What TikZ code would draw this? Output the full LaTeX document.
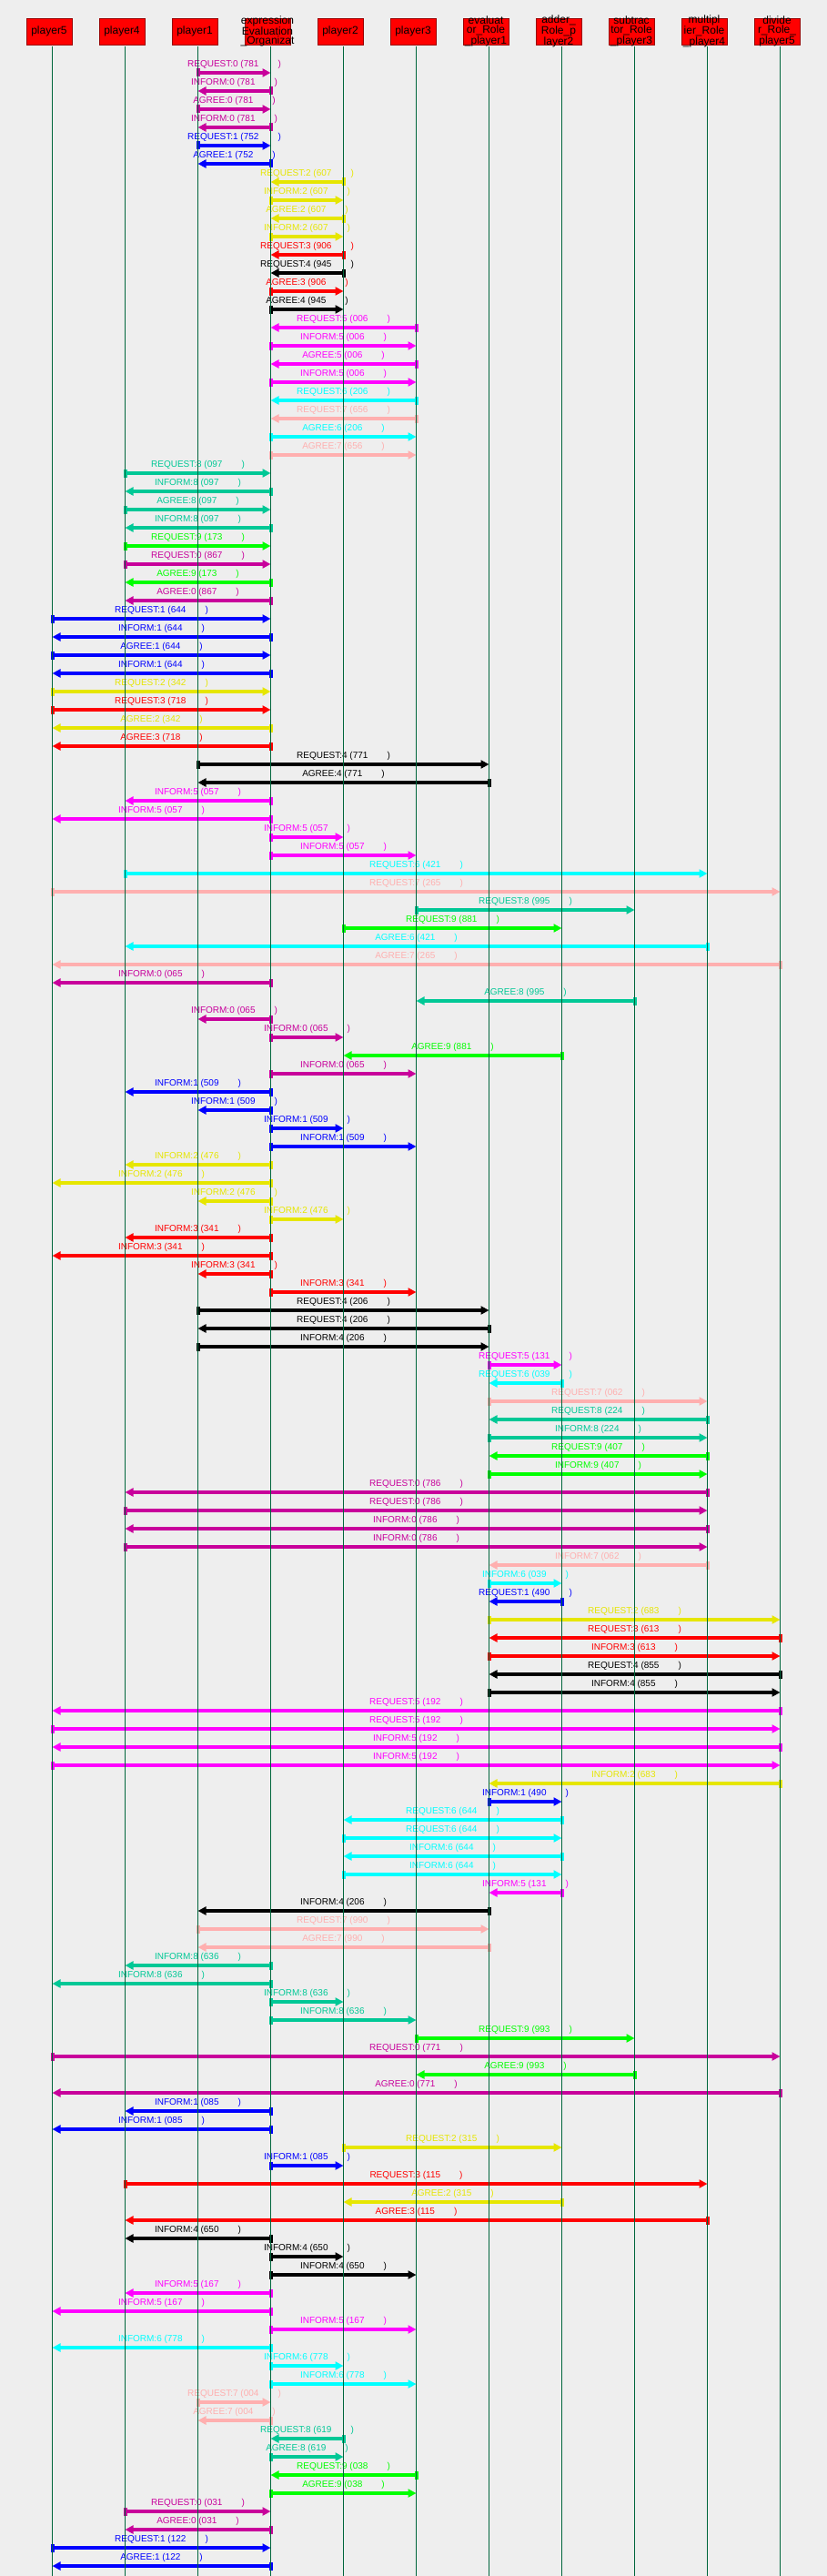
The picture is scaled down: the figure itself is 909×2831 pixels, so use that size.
\documentclass[tikz,border=0pt]{standalone}
\usepackage{fontspec}
\setmainfont{Liberation Sans}
\usepackage{xcolor}
\usetikzlibrary{arrows.meta}
\definecolor{bg}{HTML}{EEEEEE}
\definecolor{life}{HTML}{00663C}
\definecolor{boxred}{HTML}{FF0000}
\definecolor{boxedge}{HTML}{990000}
\definecolor{m0}{HTML}{C8009B}
\definecolor{m1}{HTML}{0000FF}
\definecolor{m2}{HTML}{E6E600}
\definecolor{m3}{HTML}{FF0000}
\definecolor{m4}{HTML}{000000}
\definecolor{m5}{HTML}{FF00FF}
\definecolor{m6}{HTML}{00FFFF}
\definecolor{m7}{HTML}{FFAFAF}
\definecolor{m8}{HTML}{00C896}
\definecolor{m9}{HTML}{00FF00}

\begin{document}
\begin{tikzpicture}[x=1pt, y=-1pt,
    hdr/.style={rectangle, fill=boxred, draw=boxedge, line width=0.6pt,
      minimum width=50pt, minimum height=29pt, inner sep=0pt},
    hdrtext/.style={align=center, inner sep=0pt, font=\fontsize{12}{10.4}\selectfont},
    msg/.style={line width=3.2pt, -{Triangle[length=9pt, width=9pt]}},
    tick/.style={rectangle, inner sep=0pt, minimum width=4pt, minimum height=9pt},
    lbl/.style={inner sep=0pt, font=\fontsize{10}{12}\selectfont}]
  % background
  \fill[bg] (0,0) rectangle (909,2831);
  \useasboundingbox (0,0) rectangle (909,2831);
  % header boxes, one per role
  \foreach \nm/\i/\txt in {p5/1/player5, p4/2/player4, p1/3/player1,
      org/4/{expression\\Evaluation\\\_Organizat}, p2/5/player2, p3/6/player3,
      eval/7/{evaluat\\or\_Role\\\_player1}, add/8/{adder\_\\Role\_p\\layer2},
      sub/9/{subtrac\\tor\_Role\\\_player3}, mul/10/{multipl\\ier\_Role\\\_player4},
      div/11/{divide\\r\_Role\_\\player5}}{
    \node[hdr] (h\nm) at ({80*\i-26},34.6) {};
    \node[hdrtext] (t\nm) at (h\nm) {\txt};
    \coordinate (\nm) at ({80*\i-22.5},51);
  }
  % messages, top to bottom
  \foreach \src/\dst/\act/\k/\id [count=\i] in {
      p1/org/REQUEST/0/781, org/p1/INFORM/0/781, p1/org/AGREE/0/781, org/p1/INFORM/0/781,
      p1/org/REQUEST/1/752, org/p1/AGREE/1/752,
      p2/org/REQUEST/2/607, org/p2/INFORM/2/607, p2/org/AGREE/2/607, org/p2/INFORM/2/607,
      p2/org/REQUEST/3/906, p2/org/REQUEST/4/945, org/p2/AGREE/3/906, org/p2/AGREE/4/945,
      p3/org/REQUEST/5/006, org/p3/INFORM/5/006, p3/org/AGREE/5/006, org/p3/INFORM/5/006,
      p3/org/REQUEST/6/206, p3/org/REQUEST/7/656, org/p3/AGREE/6/206, org/p3/AGREE/7/656,
      p4/org/REQUEST/8/097, org/p4/INFORM/8/097, p4/org/AGREE/8/097, org/p4/INFORM/8/097,
      p4/org/REQUEST/9/173, p4/org/REQUEST/0/867, org/p4/AGREE/9/173, org/p4/AGREE/0/867,
      p5/org/REQUEST/1/644, org/p5/INFORM/1/644, p5/org/AGREE/1/644, org/p5/INFORM/1/644,
      p5/org/REQUEST/2/342, p5/org/REQUEST/3/718, org/p5/AGREE/2/342, org/p5/AGREE/3/718,
      p1/eval/REQUEST/4/771, eval/p1/AGREE/4/771,
      org/p4/INFORM/5/057, org/p5/INFORM/5/057, org/p2/INFORM/5/057, org/p3/INFORM/5/057,
      p4/mul/REQUEST/6/421, p5/div/REQUEST/7/265, p3/sub/REQUEST/8/995, p2/add/REQUEST/9/881,
      mul/p4/AGREE/6/421, div/p5/AGREE/7/265,
      org/p5/INFORM/0/065, sub/p3/AGREE/8/995, org/p1/INFORM/0/065, org/p2/INFORM/0/065,
      add/p2/AGREE/9/881, org/p3/INFORM/0/065,
      org/p4/INFORM/1/509, org/p1/INFORM/1/509, org/p2/INFORM/1/509, org/p3/INFORM/1/509,
      org/p4/INFORM/2/476, org/p5/INFORM/2/476, org/p1/INFORM/2/476, org/p2/INFORM/2/476,
      org/p4/INFORM/3/341, org/p5/INFORM/3/341, org/p1/INFORM/3/341, org/p3/INFORM/3/341,
      p1/eval/REQUEST/4/206, eval/p1/REQUEST/4/206, p1/eval/INFORM/4/206,
      eval/add/REQUEST/5/131, add/eval/REQUEST/6/039, eval/mul/REQUEST/7/062,
      mul/eval/REQUEST/8/224, eval/mul/INFORM/8/224, mul/eval/REQUEST/9/407, eval/mul/INFORM/9/407,
      mul/p4/REQUEST/0/786, p4/mul/REQUEST/0/786, mul/p4/INFORM/0/786, p4/mul/INFORM/0/786,
      mul/eval/INFORM/7/062, eval/add/INFORM/6/039, add/eval/REQUEST/1/490,
      eval/div/REQUEST/2/683, div/eval/REQUEST/3/613, eval/div/INFORM/3/613,
      div/eval/REQUEST/4/855, eval/div/INFORM/4/855,
      div/p5/REQUEST/5/192, p5/div/REQUEST/5/192, div/p5/INFORM/5/192, p5/div/INFORM/5/192,
      div/eval/INFORM/2/683, eval/add/INFORM/1/490,
      add/p2/REQUEST/6/644, p2/add/REQUEST/6/644, add/p2/INFORM/6/644, p2/add/INFORM/6/644,
      add/eval/INFORM/5/131, eval/p1/INFORM/4/206, p1/eval/REQUEST/7/990, eval/p1/AGREE/7/990,
      org/p4/INFORM/8/636, org/p5/INFORM/8/636, org/p2/INFORM/8/636, org/p3/INFORM/8/636,
      p3/sub/REQUEST/9/993, p5/div/REQUEST/0/771, sub/p3/AGREE/9/993, div/p5/AGREE/0/771,
      org/p4/INFORM/1/085, org/p5/INFORM/1/085, p2/add/REQUEST/2/315, org/p2/INFORM/1/085,
      p4/mul/REQUEST/3/115, add/p2/AGREE/2/315, mul/p4/AGREE/3/115,
      org/p4/INFORM/4/650, org/p2/INFORM/4/650, org/p3/INFORM/4/650,
      org/p4/INFORM/5/167, org/p5/INFORM/5/167, org/p3/INFORM/5/167,
      org/p5/INFORM/6/778, org/p2/INFORM/6/778, org/p3/INFORM/6/778,
      p1/org/REQUEST/7/004, org/p1/AGREE/7/004, p2/org/REQUEST/8/619, org/p2/AGREE/8/619,
      p3/org/REQUEST/9/038, org/p3/AGREE/9/038, p4/org/REQUEST/0/031, org/p4/AGREE/0/031,
      p5/org/REQUEST/1/122, org/p5/AGREE/1/122}{
    \pgfmathsetmacro\yy{60+20*\i}
    \draw[msg, color=m\k] (\src |- 0,\yy) -- (\dst |- 0,\yy)
      node[lbl, midway, above=2.5pt, text=m\k] (l\i) {\act:\k\ (\id\hspace{21pt})};
    \node[tick, fill=m\k] (s\i) at (\src |- 0,\yy) {};
  }
  % lifelines on top
  \foreach \nm in {p5,p4,p1,org,p2,p3,eval,add,sub,mul,div}
    \draw[life, line width=1pt] (\nm) -- (\nm |- 0,2831);
\end{tikzpicture}
\end{document}
